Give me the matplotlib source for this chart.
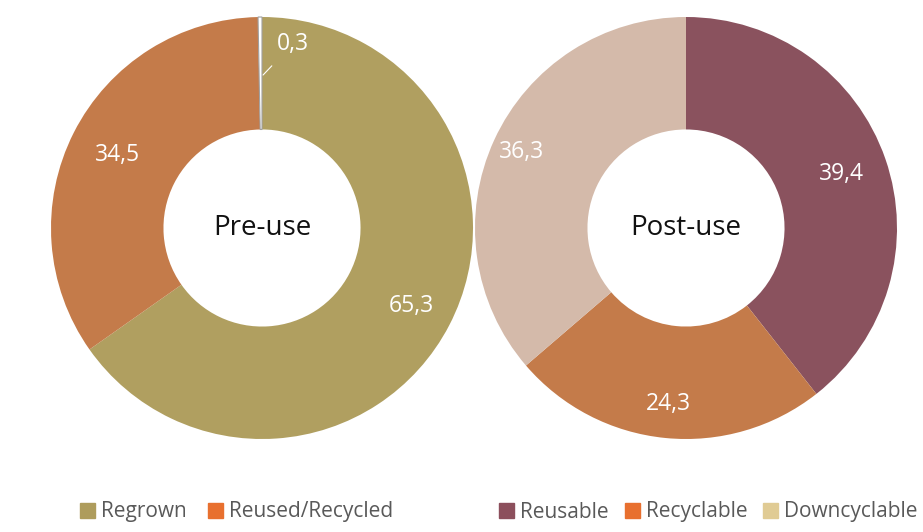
import numpy as np
import matplotlib.pyplot as plt
from matplotlib.patches import Patch

plt.rcParams["font.family"] = ["Open Sans", "DejaVu Sans"]

# pre-use sourcing shares (%)
pre_labels = ["Regrown", "Reused/Recycled", "Other"]
pre_values = [65.3, 34.5, 0.3]
pre_colors = ["#B09F60", "#C47B4A", "#FFFFFF"]

# post-use fate shares (%)
post_labels = ["Reusable", "Recyclable", "Downcyclable"]
post_values = [39.4, 24.3, 36.3]
post_colors = ["#8A525E", "#C47B4A", "#D4BAAA"]

# legend swatches
pre_legend_colors = ["#AE9C5C", "#E8702F"]
post_legend_colors = ["#8C4F5C", "#E8702F", "#E0CB94"]

W, H = 923, 532
fig = plt.figure(figsize=(W / 100, H / 100), dpi=100)


def donut(cx, title, values, colors, label_dist):
    r = 211
    ax = fig.add_axes([(cx - r) / W, (H - 228 - r) / H, 2 * r / W, 2 * r / H])
    wedges, _ = ax.pie(values, colors=colors, startangle=90, counterclock=False,
                       radius=1, wedgeprops=dict(width=0.533, linewidth=0))
    for w, v, d in zip(wedges, values, label_dist):
        if d is None:
            continue
        mid = np.deg2rad((w.theta1 + w.theta2) / 2)
        ax.text(d * np.cos(mid), d * np.sin(mid), f"{v:.1f}".replace(".", ","),
                ha="center", va="center", color="white", fontsize=16.5)
    ax.text(0, 0, title, ha="center", va="center", fontsize=20, color="#111111")
    ax.set_xlim(-1, 1)
    ax.set_ylim(-1, 1)
    ax.set_aspect("equal")
    ax.axis("off")
    return ax, wedges


ax1, w1 = donut(262, "Pre-use", pre_values, pre_colors, [0.80, 0.77, None])
w1[2].set_edgecolor("#A0A0A0")
w1[2].set_linewidth(0.8)
ax1.annotate(f"{pre_values[2]:.1f}".replace(".", ","), xy=(0.005, 0.725),
             xytext=(0.145, 0.872), ha="center", va="center", color="white",
             fontsize=16.5,
             arrowprops=dict(arrowstyle="-", color="white", lw=0.8, shrinkA=7, shrinkB=0))

ax2, w2 = donut(686, "Post-use", post_values, post_colors, [0.78, 0.84, 0.86])

leg_kw = dict(frameon=False, fontsize=15, handlelength=0.72, handleheight=0.72,
              handletextpad=0.3, labelcolor="#595959",
              loc="center left", borderaxespad=0, borderpad=0)
fig.legend(handles=[Patch(color=c, label=l) for c, l in zip(pre_legend_colors, pre_labels[:2])],
           ncol=2, columnspacing=1.0, bbox_to_anchor=(80 / W, 1 - 512 / H), **leg_kw)
fig.legend(handles=[Patch(color=c, label=l) for c, l in zip(post_legend_colors, post_labels)],
           ncol=3, columnspacing=0.75, bbox_to_anchor=(499 / W, 1 - 512 / H), **leg_kw)

fig.savefig("out.png", dpi=100)
